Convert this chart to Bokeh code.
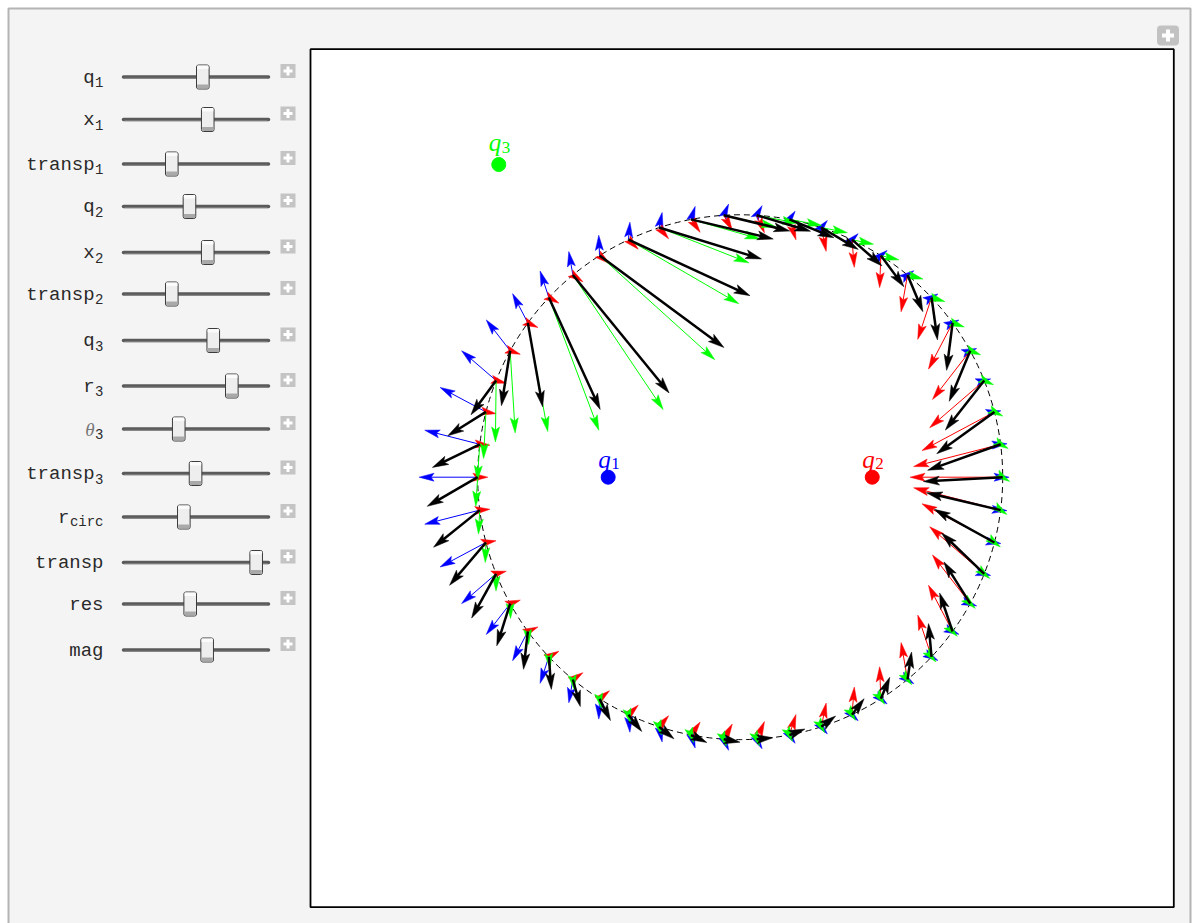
import numpy as np
from bokeh.plotting import figure
from bokeh.models import Range1d, ColumnDataSource
from bokeh.embed import file_html
from bokeh.resources import INLINE
from bokeh.core.properties import value

# ---------------- data ----------------
charge_subs = ["1", "2", "3"]
charge_x = [-1.529, 1.529, -2.796]
charge_y = [0.0, 0.0, 3.621]
charge_strength = [1.55, -2.45, 4.45]
charge_colors = ["#0000ff", "#ff0000", "#00ff00"]
circle_radius = 3.04
circle_points = 50

slider_names = ["q", "x", "transp", "q", "x", "transp", "q", "r", "\u03b8", "transp", "r", "transp", "res", "mag"]
slider_subs = ["1", "1", "1", "2", "2", "2", "3", "3", "3", "3", "circ", "", "", ""]
slider_values = [0.547, 0.581, 0.333, 0.455, 0.581, 0.333, 0.619, 0.747, 0.381, 0.497, 0.416, 0.915, 0.46, 0.577]

# ---------------- layout constants (page pixels) ----------------
BG = "#f4f4f4"
EDGE = "#b4b4b4"
S = 86.35              # px per plot unit
OX, OY = 739.7, 476.7  # px position of plot origin
W_TOTAL, H_TOTAL = 1193, 923
row_y = [76.5, 119, 163.5, 206, 252, 293.5, 340, 385.5, 428.5, 473, 516.5, 562, 603.5, 649.5]


def ux(px):
    return (np.asarray(px, dtype=float) - OX) / S


def uy(py):
    return (OY - np.asarray(py, dtype=float)) / S


p = figure(width=W_TOTAL, height=H_TOTAL,
           x_range=Range1d(float(ux(0)), float(ux(W_TOTAL))), y_range=Range1d(float(uy(H_TOTAL)), float(uy(0))),
           title=None, output_backend="svg", toolbar_location=None, min_border=0,
           x_axis_location=None, y_axis_location=None)
p.grid.visible = False
p.outline_line_color = None
p.background_fill_color = "white"
p.border_fill_color = "white"

# ---------------- panel ----------------
p.quad(left=[ux(8)], right=[ux(1190)], top=[uy(8)], bottom=[uy(H_TOTAL + 20)],
       fill_color=BG, line_color=EDGE, line_width=2)

# corner plus button
cx0, cy0 = 1167.5, 35.0
p.quad(left=[ux(cx0 - 11)], right=[ux(cx0 + 11)], top=[uy(cy0 - 10)], bottom=[uy(cy0 + 10)],
       fill_color="#c2c2c2", line_color=None, border_radius=4)
p.segment(x0=[ux(cx0 - 6)], y0=[uy(cy0)], x1=[ux(cx0 + 6)], y1=[uy(cy0)], line_color="white", line_width=4)
p.segment(x0=[ux(cx0)], y0=[uy(cy0 - 6)], x1=[ux(cx0)], y1=[uy(cy0 + 6)], line_color="white", line_width=4)

# ---------------- sliders ----------------
TX0, TX1 = 123.0, 268.0
ry = np.array(row_y)
n = len(ry)
p.segment(x0=ux([TX0] * n), y0=uy(ry), x1=ux([TX1] * n), y1=uy(ry),
          line_color="#5a5a5a", line_width=3.5, line_cap="round")
p.segment(x0=ux([TX0 + 1] * n), y0=uy(ry + 1.2), x1=ux([TX1 - 1] * n), y1=uy(ry + 1.2),
          line_color="#8c8c8c", line_width=0.8)

tx = TX0 + np.array(slider_values) * (TX1 - TX0)
p.quad(left=ux(tx - 6.3), right=ux(tx + 6.3), top=uy(ry - 12), bottom=uy(ry + 12),
       fill_color="#eeeeee", line_color="#3c3c3c", line_width=1, border_radius=2)
p.quad(left=ux(tx - 5.6), right=ux(tx + 5.6), top=uy(ry + 7.5), bottom=uy(ry + 11.4),
       fill_color="#a9a9a9", line_color=None)
p.quad(left=ux(tx - 5.6), right=ux(tx + 5.6), top=uy(ry - 11.4), bottom=uy(ry - 8),
       fill_color="#fbfbfb", line_color=None)

px_c = np.full(n, 287.5)
py_c = ry - 6.0
p.quad(left=ux(px_c - 7.5), right=ux(px_c + 7.5), top=uy(py_c - 7), bottom=uy(py_c + 7),
       fill_color="#c4c4c4", line_color=None)
p.segment(x0=ux(px_c - 4.5), y0=uy(py_c), x1=ux(px_c + 4.5), y1=uy(py_c), line_color="white", line_width=3)
p.segment(x0=ux(px_c), y0=uy(py_c - 4.5), x1=ux(px_c), y1=uy(py_c + 4.5), line_color="white", line_width=3)

MAIN_FS, SUB_FS, RIGHT = 19, 14, 103.0
main_right = np.array([RIGHT - len(s) * 0.6 * SUB_FS - (0.5 if s else 0) for s in slider_subs])
mono_idx = [i for i, nm in enumerate(slider_names) if nm != "\u03b8"]
theta_idx = [i for i, nm in enumerate(slider_names) if nm == "\u03b8"]
sub_idx = [i for i, s in enumerate(slider_subs) if s]
p.text(x=ux(main_right[mono_idx]), y=uy(ry[mono_idx] + 0.8),
       text=[slider_names[i] for i in mono_idx], text_font=value("Liberation Mono"),
       text_font_size=f"{MAIN_FS}px", text_align="right", text_baseline="alphabetic",
       text_color="#2a2a2a")
p.text(x=ux(main_right[theta_idx]), y=uy(ry[theta_idx] + 0.8),
       text=[slider_names[i] for i in theta_idx], text_font=value("Liberation Serif"),
       text_font_style="italic", text_font_size="19px", text_align="right",
       text_baseline="alphabetic", text_color="#777777")
p.text(x=ux(main_right[sub_idx] + 0.5), y=uy(ry[sub_idx] + 5.0),
       text=[slider_subs[i] for i in sub_idx], text_font=value("Liberation Mono"),
       text_font_size=f"{SUB_FS}px", text_align="left", text_baseline="alphabetic",
       text_color="#2a2a2a")

# ---------------- plot box ----------------
p.quad(left=[ux(310)], right=[ux(1173.3)], top=[uy(48.7)], bottom=[uy(906.7)],
       fill_color="white", line_color="black", line_width=1.8)

# dashed circle
p.circle(x=[0.0], y=[0.0], radius=circle_radius, fill_color=None, line_color="black",
         line_width=1, line_dash="6 4")

# field vectors on the circle
ang = np.arange(circle_points) * 2 * np.pi / circle_points
cpx = circle_radius * np.cos(ang)
cpy = circle_radius * np.sin(ang)
fields = []
for qx, qy, k in zip(charge_x, charge_y, charge_strength):
    dx = cpx - qx
    dy = cpy - qy
    d3 = (dx * dx + dy * dy) ** 1.5
    fields.append((k * dx / d3, k * dy / d3))
tot = (sum(f[0] for f in fields), sum(f[1] for f in fields))


def draw_arrows(vx, vy, color, lw, hl_px, hw_px, notch_px):
    hl, hw, nt = hl_px / S, hw_px / S, notch_px / S
    L = np.hypot(vx, vy)
    ex, ey = vx / L, vy / L
    nx, ny = -ey, ex
    tx_, ty_ = cpx + vx, cpy + vy
    bx, by = tx_ - hl * ex, ty_ - hl * ey
    mx, my = tx_ - (hl - nt) * ex, ty_ - (hl - nt) * ey
    lx, ly = tx_ - 0.5 * hl * ex, ty_ - 0.5 * hl * ey
    keep = L > (hl - nt)
    seg = ColumnDataSource(dict(x0=cpx[keep], y0=cpy[keep], x1=lx[keep], y1=ly[keep]))
    p.segment(x0="x0", y0="y0", x1="x1", y1="y1", source=seg, line_color=color, line_width=lw)
    xs = [[tx_[i], bx[i] + hw / 2 * nx[i], mx[i], bx[i] - hw / 2 * nx[i]] for i in range(len(cpx))]
    ys = [[ty_[i], by[i] + hw / 2 * ny[i], my[i], by[i] - hw / 2 * ny[i]] for i in range(len(cpx))]
    p.patches(xs="xs", ys="ys", source=ColumnDataSource(dict(xs=xs, ys=ys)),
              fill_color=color, line_color=color, line_width=0.5)


draw_arrows(fields[0][0], fields[0][1], charge_colors[0], 1.0, 15, 8, 3)
draw_arrows(fields[1][0], fields[1][1], charge_colors[1], 1.0, 15, 8, 3)
draw_arrows(fields[2][0], fields[2][1], charge_colors[2], 1.0, 15, 8, 3)
draw_arrows(tot[0], tot[1], "black", 2.5, 16, 9, 3.5)

# charges and labels
p.scatter(x=charge_x, y=charge_y, size=14, color=charge_colors)
lab_dy = [-18, -18, -22]
p.text(x=charge_x, y=charge_y, text=["q"] * 3, text_font=value("Liberation Serif"),
       text_font_style="italic", text_font_size="25px", text_align="right",
       text_baseline="alphabetic", text_color=charge_colors, x_offset=2.5, y_offset=lab_dy)
p.text(x=charge_x, y=charge_y, text=charge_subs, text_font=value("Liberation Serif"),
       text_font_size="17px", text_align="left", text_baseline="alphabetic",
       text_color=charge_colors, x_offset=3, y_offset=[d + 4.5 for d in lab_dy])

open("out.html", "w").write(file_html(p, INLINE))
